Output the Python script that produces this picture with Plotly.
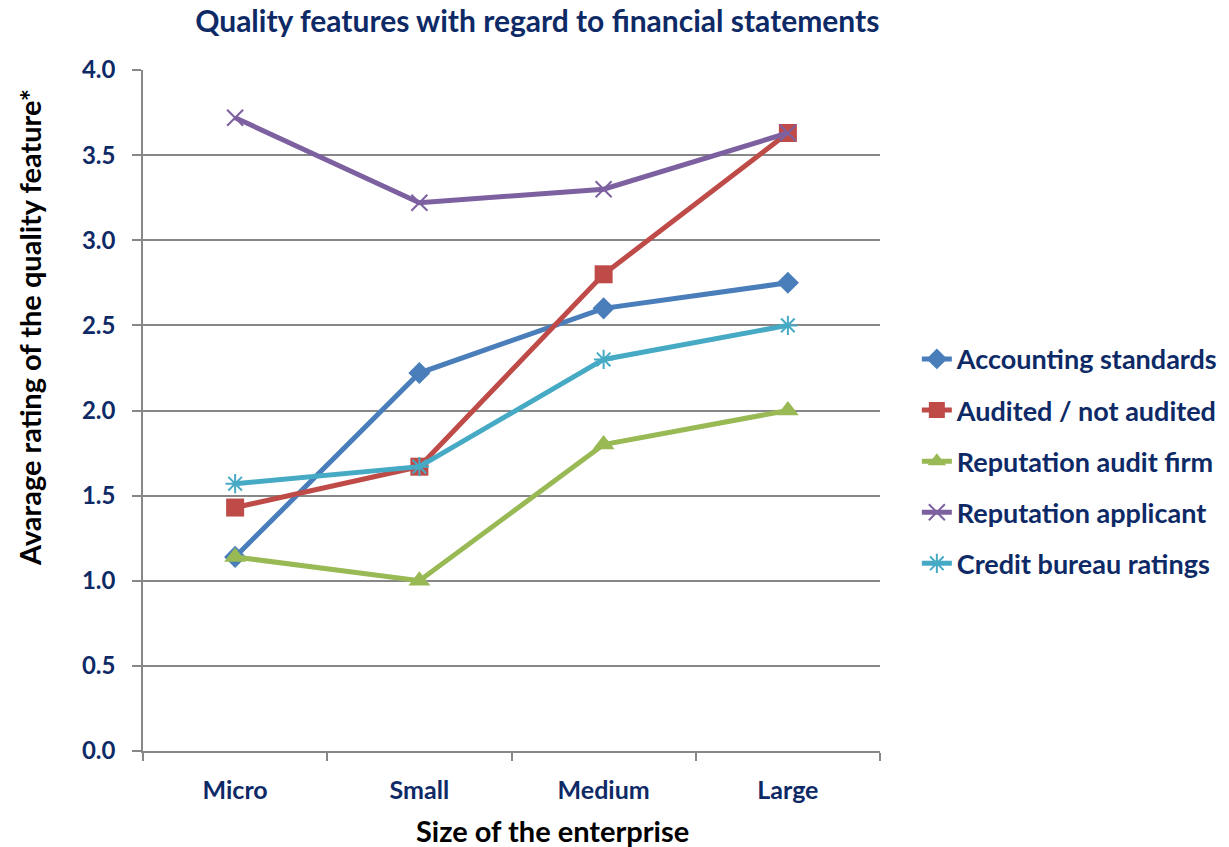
import plotly.graph_objects as go

categories = ["Micro", "Small", "Medium", "Large"]
accounting_standards = [1.14, 2.22, 2.60, 2.75]
audited = [1.43, 1.67, 2.80, 3.63]
reputation_audit_firm = [1.14, 1.00, 1.80, 2.00]
reputation_applicant = [3.72, 3.22, 3.30, 3.63]
credit_bureau = [1.57, 1.67, 2.30, 2.50]
y_ticks = [0, 0.5, 1.0, 1.5, 2.0, 2.5, 3.0, 3.5, 4.0]

NAVY = "#0E2A66"
GRID = "#878787"
FONT = "Lato"

series = [
    ("Accounting standards", accounting_standards, "#4A7EBB", "diamond", 17),
    ("Audited / not audited", audited, "#BE4B48", "square", 18),
    ("Reputation audit firm", reputation_audit_firm, "#98B954", "triangle-up", 19),
    ("Reputation applicant", reputation_applicant, "#7D60A0", "x-thin", 16),
    ("Credit bureau ratings", credit_bureau, "#46AAC5", "asterisk", 16),
]

fig = go.Figure()
for i, (name, vals, color, sym, size) in enumerate(series):
    thin = sym in ("x-thin", "asterisk")
    fig.add_trace(go.Scatter(
        x=categories, y=vals, name=name, mode="lines+markers",
        legendgroup=f"g{i}",
        line=dict(color=color, width=5),
        marker=dict(symbol=sym, size=size, color=color,
                    line=dict(color=color, width=2 if thin else 0)),
    ))

fig.update_layout(
    width=1229, height=847,
    margin=dict(l=143, r=349, t=70, b=96, autoexpand=False),
    paper_bgcolor="white", plot_bgcolor="white",
    font=dict(family=FONT, color=NAVY, size=20, weight="bold"),
    title=dict(text="Quality features with regard to financial statements",
               x=0.535, xref="paper", xanchor="center",
               y=1 - 21 / 847, yref="container", yanchor="middle",
               font=dict(size=30, color=NAVY, family=FONT, weight="bold")),
    showlegend=True,
    legend=dict(x=1.050, xanchor="left", y=0.611, yanchor="top",
                font=dict(size=27, color=NAVY, family=FONT, weight="bold"),
                tracegroupgap=13, traceorder="grouped",
                itemwidth=30, bgcolor="rgba(0,0,0,0)"),
    xaxis=dict(
        type="category", range=[-0.5, 3.5],
        tickson="boundaries", ticks="outside", ticklen=8, tickwidth=1.5, tickcolor=GRID,
        showline=True, linecolor=GRID, linewidth=1.5,
        showgrid=False, zeroline=False,
        tickfont=dict(size=25, color=NAVY, family=FONT, weight="bold"),
        ticklabelstandoff=16,
    ),
    yaxis=dict(
        range=[0, 4], tickvals=y_ticks, tickformat=".1f",
        ticks="outside", ticklen=9, tickwidth=1.5, tickcolor=GRID,
        showline=True, linecolor=GRID, linewidth=1.5,
        showgrid=True, gridcolor=GRID, gridwidth=1.5, zeroline=False,
        tickfont=dict(size=24, color=NAVY, family=FONT, weight="bold"),
        ticklabelstandoff=12,
    ),
    annotations=[
        dict(text="Avarage rating of the quality feature*",
             x=(30 - 143) / 737, y=(751 - 328) / 681, xref="paper", yref="paper",
             textangle=-90, showarrow=False, xanchor="center", yanchor="middle",
             font=dict(size=29, color="black", family=FONT, weight="bold")),
        dict(text="Size of the enterprise",
             x=(552 - 143) / 737, y=(751 - 830) / 681, xref="paper", yref="paper",
             showarrow=False, xanchor="center", yanchor="middle",
             font=dict(size=29, color="black", family=FONT, weight="bold")),
    ],
)

fig.write_html("out.html",
               config={"displayModeBar": False},
               post_script="document.body.style.margin='0';document.body.style.overflow='hidden';")
